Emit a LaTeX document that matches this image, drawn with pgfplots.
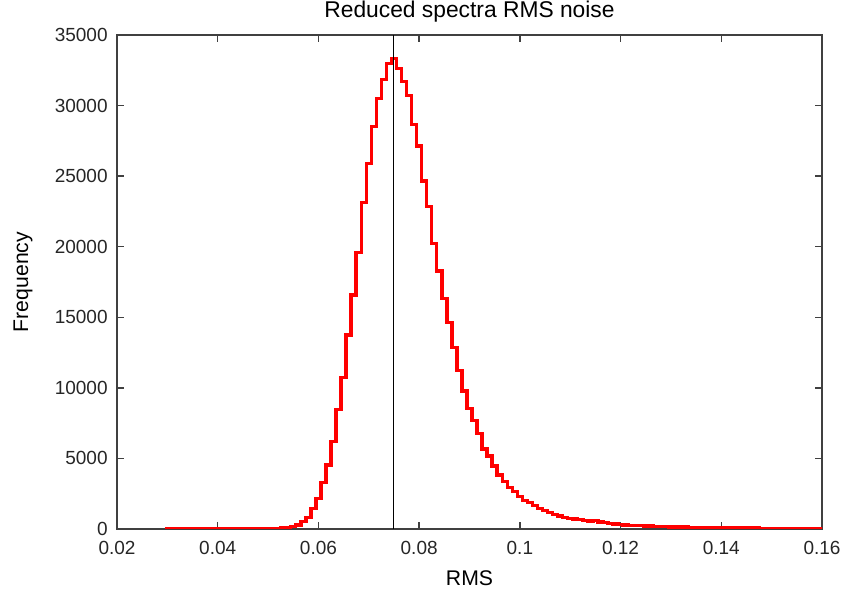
\documentclass[border=0pt]{standalone}
\usepackage{pgfplots}
\pgfplotsset{compat=1.18}
\usepackage{pgfplotstable}
\usepackage{fontspec}
\setmainfont{Liberation Sans}

\pgfplotstableread{
x y
0.030 0
0.031 0
0.032 0
0.033 0
0.034 0
0.035 0
0.036 0
0.037 0
0.038 0
0.039 0
0.040 5
0.041 5
0.042 5
0.043 5
0.044 8
0.045 10
0.046 12
0.047 15
0.048 20
0.049 25
0.050 30
0.051 40
0.052 50
0.053 65
0.054 100
0.055 165
0.056 280
0.057 520
0.058 830
0.059 1465
0.060 2175
0.061 3280
0.062 4535
0.063 6190
0.064 8480
0.065 10750
0.066 13745
0.067 16580
0.068 19600
0.069 23120
0.070 25910
0.071 28500
0.072 30490
0.073 31860
0.074 33000
0.075 33320
0.076 32640
0.077 31690
0.078 30700
0.079 28670
0.080 27140
0.081 24660
0.082 22840
0.083 20240
0.084 18280
0.085 16340
0.086 14620
0.087 12850
0.088 11220
0.089 9790
0.090 8550
0.091 7670
0.092 6780
0.093 5670
0.094 5170
0.095 4460
0.096 3830
0.097 3350
0.098 2950
0.099 2645
0.100 2290
0.101 2010
0.102 1865
0.103 1650
0.104 1465
0.105 1300
0.106 1155
0.107 1015
0.108 920
0.109 830
0.110 755
0.111 710
0.112 660
0.113 615
0.114 565
0.115 615
0.116 495
0.117 450
0.118 400
0.119 355
0.120 305
0.121 285
0.122 265
0.123 245
0.124 230
0.125 215
0.126 200
0.127 185
0.128 175
0.129 165
0.130 155
0.131 145
0.132 135
0.133 128
0.134 120
0.135 113
0.136 106
0.137 100
0.138 95
0.139 90
0.140 85
0.141 80
0.142 76
0.143 72
0.144 68
0.145 64
0.146 60
0.147 57
0.148 54
0.149 51
0.150 48
0.151 46
0.152 44
0.153 42
0.154 40
0.155 38
0.156 36
0.157 34
0.158 32
0.159 30
0.160 28
0.161 28
}\rmsdata

\begin{document}
\begin{tikzpicture}
\useasboundingbox (-58.5pt,-31.5pt) rectangle (364.5pt,264.5pt);
\begin{axis}[
  at={(0,0)}, anchor=south west,
  scale only axis,
  width=352.5pt, height=247pt,
  xmin=0.02, xmax=0.16,
  ymin=0, ymax=35000,
  scaled x ticks=false, scaled y ticks=false,
  xtick={0.02,0.04,0.06,0.08,0.1,0.12,0.14,0.16},
  xticklabels={0.02,0.04,0.06,0.08,0.1,0.12,0.14,0.16},
  ytick={0,5000,10000,15000,20000,25000,30000,35000},
  yticklabels={0,5000,10000,15000,20000,25000,30000,35000},
  tick align=inside,
  major tick length=3.5pt,
  axis line style={black!75, line width=0.8pt},
  every tick/.style={black!75, line width=0.7pt},
  tick label style={font=\fontsize{9.5}{11}\selectfont, text=black!85},
  xticklabel style={anchor=north, inner sep=0pt, yshift=-6pt},
  yticklabel style={anchor=east, inner sep=0pt, xshift=-4.5pt},
  every axis title shift=0pt,
  title={Reduced spectra RMS noise},
  title style={at={(axis description cs:0.5,1.0364)}, anchor=base, font=\fontsize{11.4}{13}\selectfont, inner sep=0pt},
  xlabel={RMS},
  xlabel style={at={(axis description cs:0.5,-0.1134)}, anchor=base, font=\fontsize{10.6}{12}\selectfont, inner sep=0pt},
  ylabel={Frequency},
  ylabel style={at={(axis description cs:-0.1262,0.5)}, anchor=base, rotate=0, font=\fontsize{10.6}{12}\selectfont, inner sep=0pt},
]
\addplot[red, line width=1.7pt, const plot mark left, line join=miter]
  table[x expr=\thisrow{x}-0.0005, y=y] {\rmsdata};
\addplot[black, line width=0.5pt] coordinates {(0.075,0) (0.075,35000)};
\end{axis}
\end{tikzpicture}
\end{document}
